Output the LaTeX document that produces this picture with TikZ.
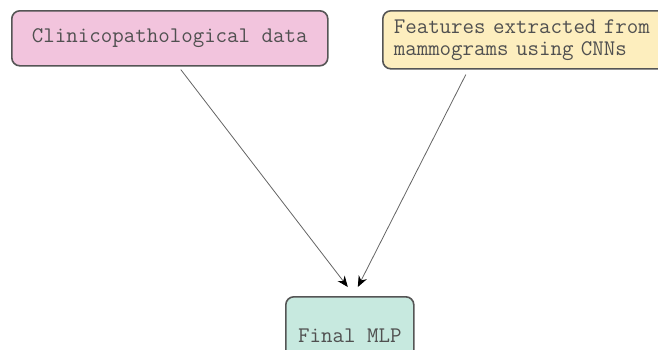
\documentclass[tikz,border=0pt]{standalone}
\usepackage{fontspec}
\usetikzlibrary{arrows.meta}
\definecolor{pinkc}{RGB}{242,196,221}
\definecolor{yellowc}{RGB}{253,238,190}
\definecolor{greenc}{RGB}{199,233,223}
\definecolor{edgec}{RGB}{85,85,85}
\definecolor{textc}{RGB}{80,80,80}
\definecolor{linec}{RGB}{100,100,100}
\tikzset{
  box/.style={draw=edgec, line width=1.6pt, rounded corners=8pt, text=textc,
    font=\ttfamily\fontsize{22.3}{22}\selectfont, inner sep=0pt},
  conn/.style={draw=linec, line width=0.8pt, -{Stealth[length=11pt,width=9pt,color=black]}}
}
\begin{document}
\begin{tikzpicture}[x=1pt,y=-1pt]
\useasboundingbox (0,0) rectangle (658,349);
\clip (0,0) rectangle (658,349);
\node[box, fill=pinkc, minimum width=316pt, minimum height=55pt, anchor=north west] (clin) at (11,10) {\raisebox{-2pt}{Clinicopathological data}};
\node[box, fill=yellowc, anchor=north west, minimum height=58pt, text width=284pt, inner xsep=11pt, align=left] (feat) at (382,10) {Features extracted from\\mammograms using CNNs};
\node[box, fill=greenc, anchor=north west, minimum width=128pt, minimum height=78pt] (mlp) at (285,296) {Final MLP};
\draw[conn] ([xshift=11pt,yshift=-3pt]clin.south) -- ([xshift=-2pt,yshift=9pt]mlp.north);
\draw[conn] ([xshift=-70pt,yshift=-5pt]feat.south) -- ([xshift=8pt,yshift=9pt]mlp.north);
\end{tikzpicture}
\end{document}
